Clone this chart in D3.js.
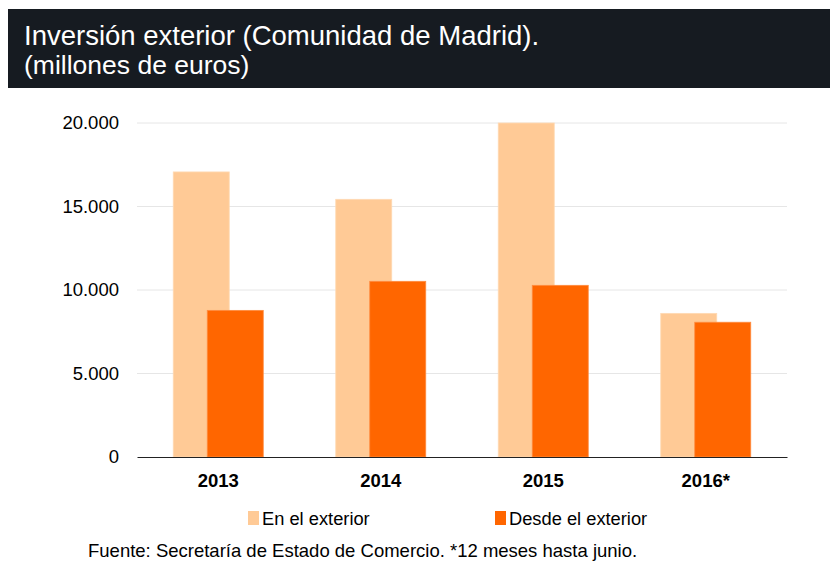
<!DOCTYPE html>
<html>
<head>
<meta charset="utf-8">
<script src="https://cdn.jsdelivr.net/npm/d3@7"></script>
<style>
  body { margin: 0; background: #fff; }
  text { font-family: "Liberation Sans", Arial, sans-serif; }
</style>
</head>
<body>
<div id="chart"></div>
<script>
// data
var years = ["2013", "2014", "2015", "2016*"];
var enExterior = [17070, 15430, 20000, 8600];
var desdeExterior = [8780, 10520, 10280, 8070];
var yTicks = [0, 5000, 10000, 15000, 20000];
var seriesNames = ["En el exterior", "Desde el exterior"];
var seriesColors = ["#ffca96", "#ff6600"];

var width = 830, height = 561;
var margin = {top: 123, right: 43, bottom: 104, left: 137};
var w = width - margin.left - margin.right,
    h = height - margin.top - margin.bottom;

var svg = d3.select("#chart").append("svg")
    .attr("width", width)
    .attr("height", height);

// title banner
svg.append("rect")
    .attr("x", 8).attr("y", 9)
    .attr("width", width - 8).attr("height", 79)
    .attr("fill", "#161b21");
svg.append("text")
    .attr("x", 24).attr("y", 45)
    .attr("fill", "#fff")
    .style("font-size", "27.5px")
    .text("Inversión exterior (Comunidad de Madrid).");
svg.append("text")
    .attr("x", 24).attr("y", 74)
    .attr("fill", "#fff")
    .style("font-size", "26.5px")
    .text("(millones de euros)");

var g = svg.append("g")
    .attr("transform", "translate(" + margin.left + "," + margin.top + ")");

var x = d3.scaleBand().domain(years).range([0, w]);
var y = d3.scaleLinear().domain([0, 20000]).range([h, 0]);

// gridlines
g.selectAll(".grid").data(yTicks.filter(function(d) { return d > 0; }))
  .enter().append("line")
    .attr("x1", 0).attr("x2", w)
    .attr("y1", function(d) { return y(d); })
    .attr("y2", function(d) { return y(d); })
    .attr("stroke", "#e6e6e6")
    .attr("stroke-width", 1);

// y axis labels
var fmt = function(d) { return d3.format(",")(d).replace(/,/g, "."); };
var yAxis = g.append("g")
    .call(d3.axisLeft(y).tickValues(yTicks).tickFormat(fmt).tickSize(0).tickPadding(18));
yAxis.select(".domain").remove();
yAxis.selectAll("text")
    .attr("fill", "#000")
    .style("font-size", "18.5px")
    .style("font-family", "Liberation Sans, Arial, sans-serif");

// bars: two overlapping series
var barW = 56, off = 17;
var series = [enExterior, desdeExterior];
series.forEach(function(vals, si) {
  g.selectAll(".bar" + si).data(vals)
    .enter().append("rect")
      .attr("x", function(d, i) {
        var c = x(years[i]) + x.bandwidth() / 2;
        return (si === 0 ? c - off : c + off) - barW / 2;
      })
      .attr("y", function(d) { return y(d); })
      .attr("width", barW)
      .attr("height", function(d) { return h - y(d); })
      .attr("fill", seriesColors[si])
      .attr("stroke", si === 0 ? "#ffd9b3" : "#ff8c40")
      .attr("stroke-width", 0.8);
});

// x axis
var xAxis = g.append("g")
    .attr("transform", "translate(0," + h + ")")
    .call(d3.axisBottom(x).tickSize(0).tickPadding(17));
xAxis.select(".domain").attr("stroke", "#222").attr("stroke-width", 1.2);
xAxis.selectAll("text")
    .attr("fill", "#000")
    .style("font-size", "18.5px")
    .style("font-weight", "bold")
    .style("font-family", "Liberation Sans, Arial, sans-serif");

// legend
var legendX = [248, 495];
var legend = svg.selectAll(".legend").data(seriesNames)
  .enter().append("g")
    .attr("transform", function(d, i) { return "translate(" + legendX[i] + ",511)"; });
legend.append("rect")
    .attr("width", 11).attr("height", 14)
    .attr("fill", function(d, i) { return seriesColors[i]; });
legend.append("text")
    .attr("x", 14).attr("y", 14)
    .style("font-size", "18.3px")
    .text(function(d) { return d; });

// source note
svg.append("text")
    .attr("x", 88).attr("y", 557)
    .style("font-size", "18.5px")
    .text("Fuente: Secretaría de Estado de Comercio. *12 meses hasta junio.");
</script>
</body>
</html>
